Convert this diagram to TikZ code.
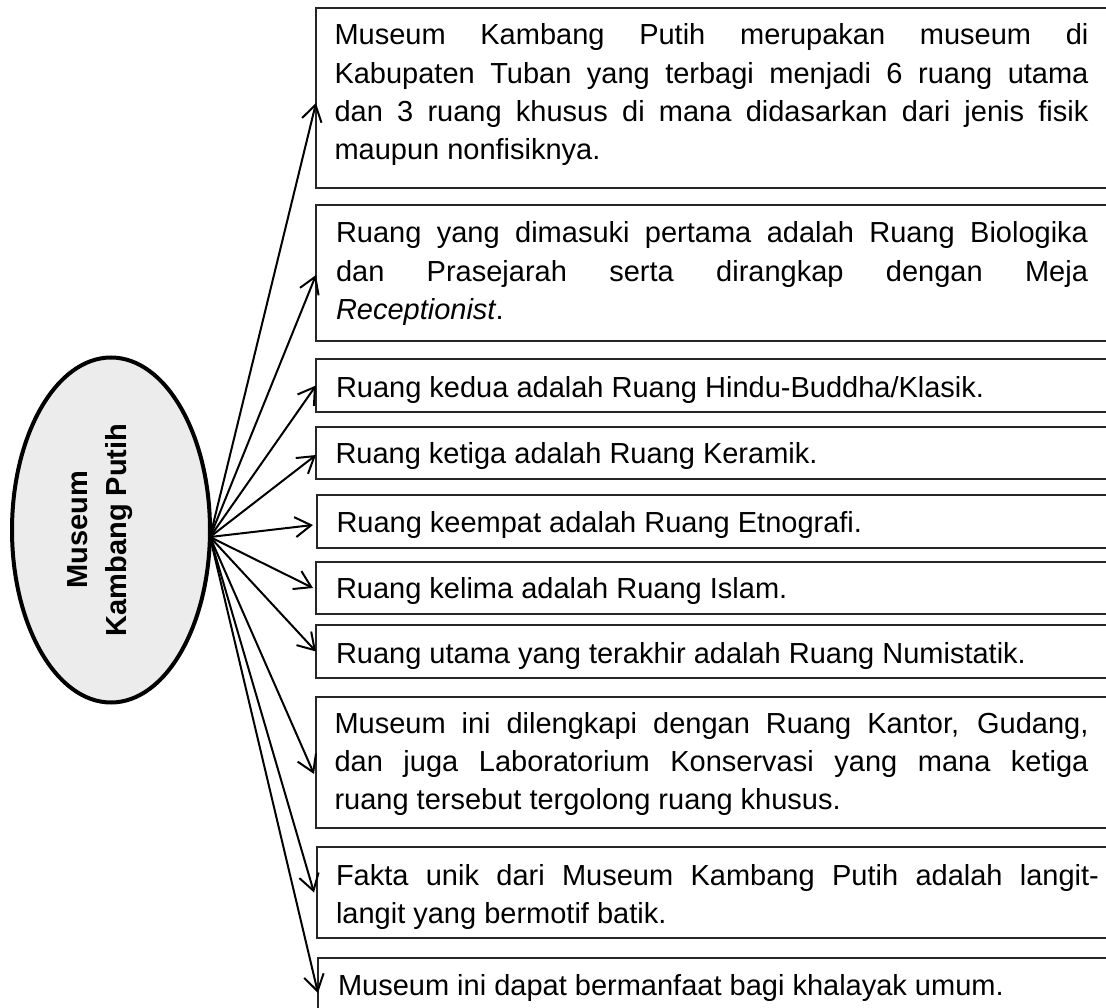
\documentclass[tikz,border=0pt]{standalone}
\usepackage{fontspec}
\setmainfont{Liberation Sans}
\usetikzlibrary{arrows.meta,shapes.geometric}
\newcommand\boxtext[2]{\parbox[t]{#1}{\fontsize{29}{38.3}\selectfont\tolerance=10000\hbadness=10000\hyphenpenalty=10000\exhyphenpenalty=10000 #2\par}}
\begin{document}
\begin{tikzpicture}[x=1pt,y=-1pt,
  boxnode/.style={draw=black!85, line width=1.3pt, rectangle, anchor=north west, minimum width=830pt, inner sep=0pt, outer sep=0pt},
  txt/.style={anchor=base west, inner sep=0pt, outer sep=0pt},
  arr/.style={line width=2pt, -{Straight Barb[length=16pt,width=20pt]}},
  center node/.style={ellipse, draw=black, line width=4pt, fill=gray!15, minimum width=198pt, minimum height=345pt, inner sep=0pt, outer sep=0pt},
  center label/.style={rotate=90, align=center, inner sep=0pt, font=\bfseries\fontsize{29}{38.3}\selectfont}
]
\useasboundingbox (0,0) rectangle (1106,1008);
\clip (0,0) rectangle (1106,1008);

% central ellipse
\node[center node] (ell) at (111,530) {};
\node[center label] (lbl) at (100,530) {Museum\\Kambang Putih};

% boxes
\node[boxnode, minimum height=180pt] (b1) at (316,8) {};
\node[boxnode, minimum height=136pt] (b2) at (316,205) {};
\node[boxnode, minimum height=53pt] (b3) at (316,359) {};
\node[boxnode, minimum height=52pt] (b4) at (316,427) {};
\node[boxnode, minimum height=53pt] (b5) at (317,495) {};
\node[boxnode, minimum height=52pt] (b6) at (316,562) {};
\node[boxnode, minimum height=53pt] (b7) at (316,625) {};
\node[boxnode, minimum height=131pt] (b8) at (316,697) {};
\node[boxnode, minimum height=91pt] (b9) at (317,847) {};
\node[boxnode, minimum height=70pt] (b10) at (318,958) {};

% texts
\node[txt] (t1) at (334.5,45) {\boxtext{754pt}{Museum Kambang Putih merupakan museum di\linebreak Kabupaten Tuban yang terbagi menjadi 6 ruang utama\linebreak dan 3 ruang khusus di mana didasarkan dari jenis fisik\linebreak maupun nonfisiknya.}};
\node[txt] (t2) at (336,243) {\boxtext{752pt}{Ruang yang dimasuki pertama adalah Ruang Biologika\linebreak dan Prasejarah serta dirangkap dengan Meja\linebreak \textit{Receptionist}.}};
\node[txt] (t3) at (336,397) {\boxtext{752pt}{Ruang kedua adalah Ruang Hindu-Buddha/Klasik.}};
\node[txt] (t4) at (335.5,463) {\boxtext{752pt}{Ruang ketiga adalah Ruang Keramik.}};
\node[txt] (t5) at (336.5,532) {\boxtext{752pt}{Ruang keempat adalah Ruang Etnografi.}};
\node[txt] (t6) at (336,598) {\boxtext{752pt}{Ruang kelima adalah Ruang Islam.}};
\node[txt] (t7) at (336,663) {\boxtext{752pt}{Ruang utama yang terakhir adalah Ruang Numistatik.}};
\node[txt] (t8) at (334.5,733) {\boxtext{754pt}{Museum ini dilengkapi dengan Ruang Kantor, Gudang,\linebreak dan juga Laboratorium Konservasi yang mana ketiga\linebreak ruang tersebut tergolong ruang khusus.}};
\node[txt] (t9) at (336,885) {\boxtext{763pt}{Fakta unik dari Museum Kambang Putih adalah langit-\linebreak langit yang bermotif batik.}};
\node[txt] (t10) at (338,995) {\boxtext{750pt}{Museum ini dapat bermanfaat bagi khalayak umum.}};

% connectors
\coordinate (src) at ([yshift=-7pt]ell.east);
\draw[arr] (src) -- ([yshift=-5pt]b1.west);
\draw[arr] (src) -- ([yshift=-2pt]b2.west);
\draw[arr] (src) -- (b3.west);
\draw[arr] (src) -- ([yshift=-2pt]b4.west);
\draw[arr] (src) -- ([xshift=-4pt,yshift=-3.5pt]b5.west);
\draw[arr] (src) -- ([xshift=-3pt]b6.west);
\draw[arr] (src) -- (b7.west);
\draw[arr] (src) -- ([xshift=-2pt,yshift=-11.5pt]b8.west);
\draw[arr] (src) -- ([xshift=-3pt]b9.west);
\draw[arr] (src) -- (b10.west);
\end{tikzpicture}
\end{document}
